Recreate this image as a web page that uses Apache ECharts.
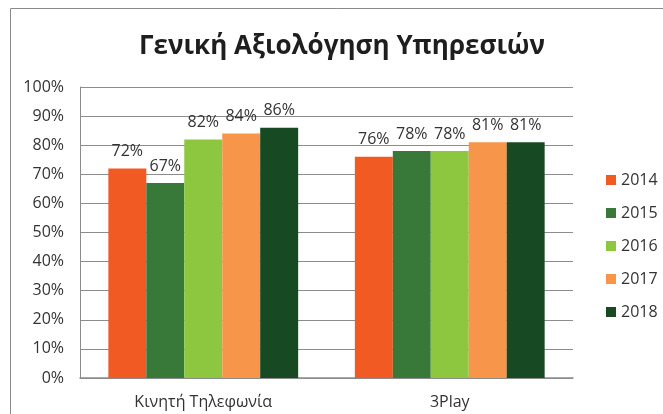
<!DOCTYPE html>
<html><head><meta charset="utf-8">
<script src="https://cdn.jsdelivr.net/npm/echarts@6/dist/echarts.min.js"></script>
<style>html,body{margin:0;padding:0;background:#fff}#c{width:663px;height:414px}</style>
</head><body><div id="c"></div>
<script>
var categories = ['Κινητή Τηλεφωνία', '3Play'];
var years = ['2014', '2015', '2016', '2017', '2018'];
var v2014 = [72, 76];
var v2015 = [67, 78];
var v2016 = [82, 78];
var v2017 = [84, 81];
var v2018 = [86, 81];
var yTicks = [0, 10, 20, 30, 40, 50, 60, 70, 80, 90, 100];
var colors = ['#F15A22', '#38793A', '#8DC63F', '#F7964A', '#174A22'];
var values = [v2014, v2015, v2016, v2017, v2018];
var FONT = 'Open Sans';
var chart = echarts.init(document.getElementById('c'));
chart.setOption({
  animation: false,
  graphic: [{type: 'rect', shape: {x: 10.5, y: 8.5, width: 700, height: 500}, style: {fill: 'none', stroke: '#8a8a8a', lineWidth: 1}, silent: true}],
  title: {text: 'Γενική Αξιολόγηση Υπηρεσιών', left: 134, top: 29,
    textStyle: {fontFamily: FONT, fontSize: 26, fontWeight: 'bold', color: '#1e1e1e'}},
  legend: {orient: 'vertical', left: 601, top: 167, itemWidth: 10, itemHeight: 10, itemGap: 17,
    icon: 'rect', textStyle: {fontFamily: FONT, fontSize: 16, color: '#333'}, data: years},
  grid: {left: 80, right: 90, top: 87, bottom: 36},
  xAxis: {type: 'category', data: categories,
    axisLine: {lineStyle: {color: '#8c8c8c', width: 1.5}}, axisTick: {show: false},
    axisLabel: {fontFamily: FONT, fontSize: 16, color: '#333', margin: 16}},
  yAxis: {type: 'value', min: 0, max: 100, interval: 10,
    axisLine: {show: true, lineStyle: {color: '#8c8c8c', width: 1}},
    axisTick: {show: false},
    splitLine: {lineStyle: {color: '#8c8c8c', width: 1}},
    axisLabel: {fontFamily: FONT, fontSize: 16, color: '#333', margin: 16,
      formatter: function (v) { return yTicks.indexOf(v) >= 0 ? v + '%' : ''; }}},
  series: years.map(function (y, i) {
    return {name: y, type: 'bar', data: values[i], barGap: '0%', barCategoryGap: '23%',
      itemStyle: {color: colors[i]},
      label: {show: true, position: 'top', distance: 9, formatter: '{c}%',
        fontFamily: FONT, fontSize: 16, color: '#333'}};
  })
});
</script></body></html>
